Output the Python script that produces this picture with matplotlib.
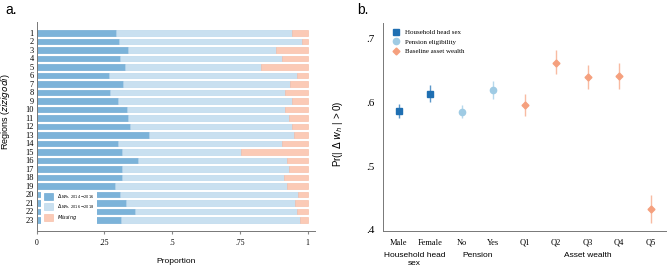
import numpy as np
import matplotlib.pyplot as plt
from matplotlib.transforms import blended_transform_factory

# panel a: share of households per region
regions = list(range(1, 24))
dw_1416 = [0.293, 0.304, 0.337, 0.307, 0.326, 0.267, 0.318, 0.272, 0.300, 0.333, 0.339, 0.343,
           0.414, 0.300, 0.315, 0.373, 0.315, 0.315, 0.289, 0.309, 0.330, 0.363, 0.312]
dw_1618_end = [0.943, 0.980, 0.883, 0.906, 0.829, 0.962, 0.936, 0.917, 0.943, 0.917, 0.932, 0.943,
               0.950, 0.904, 0.755, 0.925, 0.932, 0.914, 0.925, 0.965, 0.954, 0.962, 0.973]
dw_1618 = [e - s for e, s in zip(dw_1618_end, dw_1416)]
missing = [1 - e for e in dw_1618_end]

# panel b: predicted probabilities
cats = ["Male", "Female", "No", "Yes", "Q1", "Q2", "Q3", "Q4", "Q5"]
prob = [0.586, 0.613, 0.585, 0.619, 0.596, 0.662, 0.639, 0.641, 0.433]
lo = [0.575, 0.601, 0.576, 0.605, 0.579, 0.644, 0.620, 0.621, 0.411]
hi = [0.597, 0.627, 0.595, 0.633, 0.612, 0.681, 0.658, 0.662, 0.455]
groups = [("Household head\nsex", 1.5), ("Pension", 3.5), ("Asset wealth", 7)]

SERIF = "Liberation Serif"
SANS = "Liberation Sans"
plt.rcParams['font.family'] = [SANS, 'DejaVu Sans']
plt.rcParams['mathtext.fontset'] = 'dejavusans'

fig = plt.figure(figsize=(6.67, 2.71), dpi=100)

# ---------- panel a ----------
ax = fig.add_axes([0.055, 0.149, 0.417, 0.771])
c_dark, c_light, c_miss = "#7cb3d9", "#c9e0f0", "#fbcab6"
ax.barh(regions, dw_1416, height=0.62, color=c_dark, edgecolor="#5f9fcd", linewidth=0.4,
        label=r"$\Delta\,w_{h,\ 2014\rightarrow2016}$")
ax.barh(regions, dw_1618, left=dw_1416, height=0.62, color=c_light, edgecolor="#b4d3ea",
        linewidth=0.4, label=r"$\Delta\,w_{h,\ 2016\rightarrow2018}$")
ax.barh(regions, missing, left=dw_1618_end, height=0.62, color=c_miss, edgecolor="#f6b8a0",
        linewidth=0.4, label="$\\it{Missing}$")
ax.set_ylim(24.26, -0.33)
ax.set_xlim(0, 1.027)
ax.set_yticks(regions)
ax.set_yticklabels([str(r) for r in regions], fontsize=6, family=SERIF)
ax.set_xticks([0, 0.25, 0.5, 0.75, 1])
ax.set_xticklabels(["0", ".25", ".5", ".75", "1"], fontsize=5.5, family=SERIF)
ax.tick_params(axis='y', length=0, pad=2)
ax.tick_params(axis='x', length=2, color="#888888", pad=4)
for s in ["top", "right"]:
    ax.spines[s].set_visible(False)
for s in ["left", "bottom"]:
    ax.spines[s].set_color("#777777")
    ax.spines[s].set_linewidth(0.7)
ax.set_xlabel("Proportion", fontsize=6)
ax.xaxis.set_label_coords(0.5, -0.13)
ax.set_ylabel("Regions ($\\it{zizigodi}$)", fontsize=6.5)
ax.yaxis.set_label_coords(-0.09, 0.57)
leg = ax.legend(loc="lower left", bbox_to_anchor=(0.005, 0.015), fontsize=3.6, frameon=True,
                framealpha=1, edgecolor="none", fancybox=False, handlelength=1.9,
                handleheight=1.9, labelspacing=0.35, borderpad=0.6, handletextpad=0.7)
fig.text(0.008, 0.95, "a.", fontsize=10, family=SANS)

# ---------- panel b ----------
bx = fig.add_axes([0.5742, 0.149, 0.425, 0.765])
x = np.arange(1, 10)
styles = [
    (slice(0, 2), "s", "#1f6fb2", "#5b97c9", 4.5, "Household head sex"),
    (slice(2, 4), "o", "#9fcbe4", "#b6d8ec", 4.5, "Pension eligibility"),
    (slice(4, 9), "D", "#f5a07e", "#f8bba2", 3.5, "Baseline asset wealth"),
]
prob_a = np.array(prob)
lo_a = np.array(lo)
hi_a = np.array(hi)
for sl, mk, col, ecol, ms, lab in styles:
    xs = x[sl]
    bx.vlines(xs, lo_a[sl], hi_a[sl], color=ecol, linewidth=1.0, zorder=2)
    bx.plot(xs, prob_a[sl], linestyle="none", marker=mk, color=col, markersize=ms,
            label=lab, zorder=3)
bx.set_xlim(0.5, 9.5)
bx.set_ylim(0.399, 0.7234)
bx.set_yticks([0.4, 0.5, 0.6, 0.7])
bx.set_yticklabels([".4", ".5", ".6", ".7"], fontsize=8, family=SERIF)
bx.set_xticks(x)
bx.set_xticklabels(cats, fontsize=6, family=SERIF)
bx.tick_params(axis='y', length=0, pad=6)
bx.tick_params(axis='x', length=0, pad=6)
for s in ["top", "right"]:
    bx.spines[s].set_visible(False)
for s in ["left", "bottom"]:
    bx.spines[s].set_color("#777777")
    bx.spines[s].set_linewidth(0.7)
bx.set_ylabel(r"Pr(| $\Delta$ $w_h$ | > 0)", fontsize=7)
bx.yaxis.set_label_coords(-0.135, 0.47)
tr = blended_transform_factory(bx.transData, bx.transAxes)
for name, pos in groups:
    bx.text(pos, -0.105, name, transform=tr, ha="center", va="top", fontsize=6,
            linespacing=1.2)
bx.legend(loc="upper left", bbox_to_anchor=(0.0, 1.0), fontsize=5, frameon=False,
          prop={"family": SERIF, "size": 5}, handletextpad=0.3, labelspacing=0.5,
          borderaxespad=0.5)
fig.text(0.535, 0.95, "b.", fontsize=10, family=SANS)

fig.savefig("out.png", dpi=100)
